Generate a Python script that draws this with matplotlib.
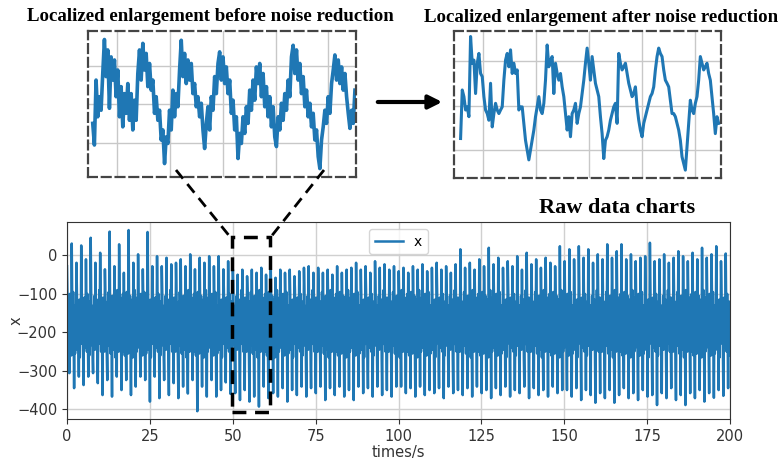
import numpy as np
import matplotlib
matplotlib.use("Agg")
import matplotlib.pyplot as plt
from matplotlib.patches import Rectangle, FancyArrowPatch
from matplotlib.lines import Line2D

# ---------------- data ----------------
# per-cycle maxima of the raw signal (0..200 s)
peaks = [-28, 31, -19, 26, -10, 46, -19, 7, -36, 62, -28, 29, -45, 66, -19, 3, -36, 61,
         -28, -2, -28, -6, -23, -19, -10, -28, 3, -36, -6, -19, -2, -28, -2, -36, -15,
         -37, -50, -37, -54, -37, -45, -32, -50, -37, -58, -37, -45, -37, -54, -41, -32,
         -28, -45, -32, -45, -37, -50, -28, -45, -37, -32, -19, -37, -28, -45, -15, -32,
         -23, -37, -28,
         -41, -32, -45, -28, -37, -23, -41, -32, -19, -37, -28, -45, -23, 16, -32, -19,
         -37, -10, -28, 20, -23, -6, -32, -15, -28, -2, -37, 7, -23, -10, -32, -6, -19,
         -28, 24,
         -15, 16, -10, 24, -6, 16, -19, 3, -10, 29, -6, 11, 29, -10, 3, -15, -6, -2, 33,
         -15, -10, 3, -19, -6, 11, -2, -15, 7, -10, 20, -6, 3, 24, -15, 5]
# per-cycle minima of the raw signal
troughs = [-306, -345, -315, -337, -315, -306, -332, -363, -324, -367, -315, -350, -324,
           -363, -341, -315, -324, -380, -315, -371, -324, -363, -332, -371, -341, -359,
           -324, -405, -341, -367, -324, -367, -350, -330, -360,
           -358, -376, -350, -380, -367, -393, -341, -371, -358, -367, -345, -380, -350,
           -363, -341, -367, -345, -358, -341, -376, -345, -363, -341, -367, -350, -376,
           -341, -358, -345, -367, -341, -363, -350, -367, -341,
           -341, -358, -345, -367, -341, -363, -350, -358, -345, -371, -341, -358, -350,
           -363, -345, -367, -341, -358, -350, -371, -345, -363, -341, -367, -350, -358,
           -341, -371, -345, -363, -350, -367, -341, -358, -350,
           -350, -367, -345, -376, -350, -363, -383, -358, -371, -350, -383, -363, -345,
           -371, -358, -376, -350, -367, -363, -389, -358, -371, -345, -376, -363, -389,
           -358, -371, -350, -380, -358, -370, -350, -365, -345]
# values inside the dense central band
band = [-110, -225, -140, -250, -100, -205, -165, -260, -120, -235, -95, -195, -150, -255,
        -130, -215, -105, -245, -175, -210, -115, -265, -145, -230, -90, -190, -125, -250,
        -110, -240]

# zoomed window before noise reduction (about 51..61 s)
before = [-249, -305, -137, -232, -180, -215, -120, -32, -128, -59, -210, -77, -137, -85,
          -180, -111, -232, -154, -258, -172, -223, -146, -241, -172, -266, -189, -241,
          -120, -59, -137, -42, -111, -68, -154, -94, -163, -137, -223, -180, -241, -215,
          -292, -266, -353, -284, -301, -215, -266, -163, -232, -172, -206, -111, -34,
          -128, -68, -146, -85, -137, -94, -172, -146, -206, -180, -232, -197, -266, -314,
          -249, -206, -266, -180, -215, -128, -172, -94, -64, -137, -77, -146, -103, -172,
          -137, -223, -189, -266, -232, -340, -275, -301, -232, -275, -206, -249, -163,
          -215, -137, -189, -103, -146, -94, -180, -120, -206, -154, -232, -180, -258,
          -206, -284, -309, -232, -266, -197, -241, -172, -215, -137, -180, -77, -47, -120,
          -59, -137, -94, -172, -128, -206, -163, -232, -197, -258, -223, -292, -266, -335,
          -366, -292, -258, -215, -249, -180, -223, -146, -111, -72, -137, -85, -146, -103,
          -163, -120, -180, -223, -262, -215, -249, -163]
# zoomed window after noise reduction
after = [-274, -165, -180, -210, -203, -225, -45, -105, -98, -173, -105, -83, -128, -135,
         -180, -210, -218, -233, -150, -248, -218, -195, -210, -218, -210, -203, -143, -98,
         -83, -113, -75, -128, -105, -128, -120, -210, -203, -203, -240, -278, -300, -322,
         -300, -278, -255, -225, -203, -180, -210, -218, -195, -143, -64, -113, -98, -90,
         -173, -105, -128, -143, -128, -158, -180, -218, -255, -225, -270, -218, -210,
         -195, -240, -218, -203, -173, -143, -105, -71, -105, -143, -90, -120, -150, -165,
         -180, -225, -263, -319, -278, -270, -255, -233, -218, -203, -195, -240, -83,
         -105, -120, -113, -105, -128, -150, -165, -180, -173, -158, -203, -233, -255,
         -270, -240, -225, -210, -195, -180, -173, -158, -120, -90, -71, -83, -90, -120,
         -143, -150, -158, -188, -218, -218, -225, -240, -255, -278, -315, -330, -345,
         -293, -240, -188, -210, -218, -195, -180, -143, -90, -105, -120, -113, -105,
         -128, -143, -180, -218, -263, -225, -240]

yticks = [0, -100, -200, -300, -400]
xticks = [0, 25, 50, 75, 100, 125, 150, 175, 200]

# ---------------- build raw series ----------------
vals = []
nb = len(band)
for i in range(len(peaks)):
    b = [band[(8 * i + k) % nb] for k in range(8)]
    vals += [peaks[i]] + b[:4] + [troughs[i]] + b[4:]
t = np.linspace(0, 200, len(vals))

W, H = 778, 459
fig = plt.figure(figsize=(W / 100, H / 100), dpi=100)

def fx(px):
    return px / W

def fy(py):
    return 1 - py / H

# main axes
ax = fig.add_axes([fx(67), fy(419.3), fx(663), 197.3 / H])
ax.plot(t, vals, color="#1f77b4", lw=1.8, label="x")
ax.set_xlim(0, 200)
ax.set_ylim(-426, 87)
ax.set_xticks(xticks)
ax.set_yticks(yticks)
ax.grid(True, color="#d0d0d0", lw=1)
ax.set_axisbelow(True)
ax.set_xlabel("times/s", fontsize=10.5, color="#333333", labelpad=1)
ax.set_ylabel("x", fontsize=10.5, color="#333333")
ax.yaxis.set_label_coords(-0.066, 0.5)
ax.tick_params(labelsize=10.5, colors="#333333")
for s in ax.spines.values():
    s.set_color("#333333")
ax.legend(loc="upper center", fontsize=10, frameon=True)

# dashed selection box on the main axes
ax.add_patch(Rectangle((49.8, -406), 11.4, 453, fill=False, ec="black", lw=2.5,
                       ls=(0, (4, 2.5)), clip_on=False, zorder=5))

# insets
def inset(rect, data, t0, t1, xl, yl, lw):
    a = fig.add_axes(rect)
    tt = np.linspace(t0, t1, len(data))
    a.plot(tt, data, color="#1f77b4", lw=lw)
    a.set_xlim(*xl)
    a.set_ylim(*yl)
    a.set_xticks([52, 54, 56, 58, 60])
    a.set_yticks([-100, -200, -300])
    a.tick_params(length=0, labelbottom=False, labelleft=False)
    a.grid(True, color="#c8c8c8", lw=1)
    a.set_axisbelow(True)
    for s in a.spines.values():
        s.set_color("#444444")
        s.set_linewidth(1.6)
        s.set_linestyle((0, (4, 2.2)))
    return a

inset([fx(87.7), fy(176.7), fx(268.3), 145.7 / H], before, 51.09, 61.0,
      (50.9, 61.04), (-387, -10), 2.6)
inset([fx(453.7), fy(177.7), fx(267.6), 146.7 / H], after, 51.16, 60.9,
      (50.9, 61.0), (-362, -32.6), 2.2)

# connector lines
for (x0, y0), (x1, y1) in [((176, 170), (231, 238)), ((324, 170), (270, 238))]:
    fig.add_artist(Line2D([fx(x0), fx(x1)], [fy(y0), fy(y1)], color="black", lw=2,
                          ls=(0, (4, 2.5)), transform=fig.transFigure))

# arrow between insets
fig.add_artist(FancyArrowPatch(
    (fx(375), fy(102)), (fx(445), fy(102)), transform=fig.transFigure,
    arrowstyle="-|>", mutation_scale=20, lw=3, color="black"))

# titles
serif = ["Liberation Serif", "DejaVu Serif"]
fig.text(fx(210), fy(21), "Localized enlargement before noise reduction", ha="center",
         va="baseline", fontsize=13.6, fontweight="bold", family=serif)
fig.text(fx(601), fy(22), "Localized enlargement after noise reduction", ha="center",
         va="baseline", fontsize=13.6, fontweight="bold", family=serif)
fig.text(fx(617.5), fy(213.3), "Raw data charts", ha="center", va="baseline",
         fontsize=16, fontweight="bold", family=serif)

fig.savefig("out.png", dpi=100)
